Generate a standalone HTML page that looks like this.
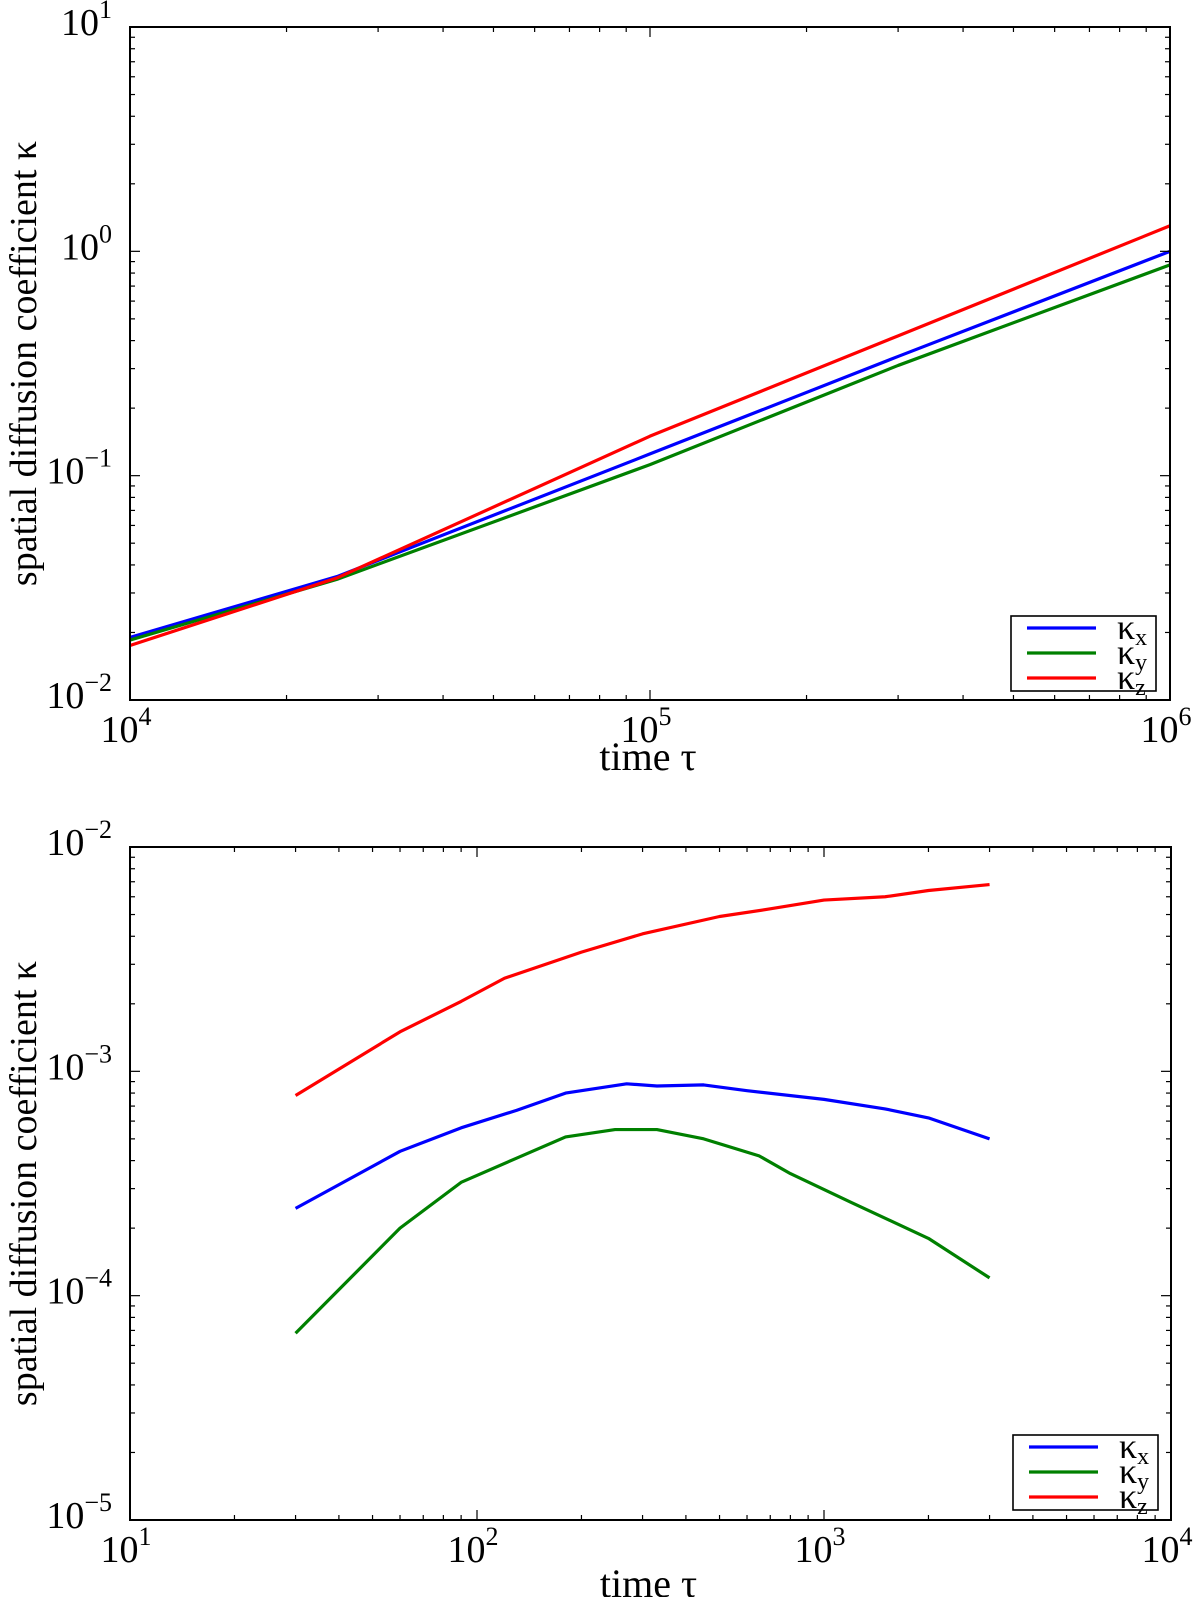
<!DOCTYPE html>
<html><head><meta charset="utf-8"><style>
html,body{margin:0;padding:0;background:#fff;overflow:hidden;}
svg{display:block;font-family:"Liberation Serif","DejaVu Serif",serif;}
</style></head><body>
<svg id="fig" width="1200" height="1597" viewBox="0 0 1200 1597" xmlns="http://www.w3.org/2000/svg"></svg>
<script>
// ---- Top chart data ----
const topX = [1e4, 2.5e4, 1e5, 3e5, 1e6];
const topKx = [0.019, 0.0355, 0.125, 0.34, 1.0];
const topKy = [0.0185, 0.0345, 0.112, 0.31, 0.87];
const topKz = [0.0175, 0.035, 0.15, 0.42, 1.3];
const topXTicks = [4, 5, 6];
const topYTicks = [-2, -1, 0, 1];
// ---- Bottom chart data ----
const botKzX = [30, 60, 90, 120, 200, 300, 500, 700, 1000, 1500, 2000, 3000];
const botKz = [7.8e-4, 1.5e-3, 2.05e-3, 2.6e-3, 3.4e-3, 4.1e-3, 4.9e-3, 5.3e-3, 5.8e-3, 6.0e-3, 6.4e-3, 6.8e-3];
const botKxX = [30, 60, 90, 130, 180, 270, 330, 450, 600, 1000, 1500, 2000, 3000];
const botKx = [2.45e-4, 4.4e-4, 5.6e-4, 6.7e-4, 8.0e-4, 8.8e-4, 8.6e-4, 8.7e-4, 8.2e-4, 7.5e-4, 6.8e-4, 6.2e-4, 5.0e-4];
const botKyX = [30, 60, 90, 130, 180, 250, 330, 450, 650, 800, 1200, 2000, 3000];
const botKy = [6.8e-5, 2.0e-4, 3.2e-4, 4.1e-4, 5.1e-4, 5.5e-4, 5.5e-4, 5.0e-4, 4.2e-4, 3.5e-4, 2.6e-4, 1.8e-4, 1.2e-4];
const botXTicks = [1, 2, 3, 4];
const botYTicks = [-5, -4, -3, -2];

const NS = "http://www.w3.org/2000/svg";
const fig = document.getElementById('fig');
function mk(tag, attrs, parent) {
  const e = document.createElementNS(NS, tag);
  for (const k in attrs) e.setAttribute(k, attrs[k]);
  (parent || fig).appendChild(e);
  return e;
}

function drawChart(cfg) {
  const g = mk('g', {});
  
  
  const L = cfg.L, R = cfg.R, T = cfg.T, B = cfg.B;
  const xd = cfg.xd, yd = cfg.yd;
  const sx = v => L + (Math.log10(v) - xd[0]) / (xd[1] - xd[0]) * (R - L);
  const sy = v => B - (Math.log10(v) - yd[0]) / (yd[1] - yd[0]) * (B - T);
  cfg.series.forEach(s => {
    const p = mk('polyline', {points: s.x.map((xv, i) => sx(xv) + ',' + sy(s.y[i])).join(' '), fill: 'none', stroke: s.color, 'stroke-width': 3.2, 'stroke-linejoin': 'round'}, g);
    
    
  });
  const tk = mk('g', {stroke: '#000', 'stroke-width': 1.2}, g);
  
  
  for (let d = xd[0]; d <= xd[1]; d++) {
    for (let m = 1; m <= 9; m++) {
      if (d === xd[1] && m > 1) break;
      const x = sx(m * Math.pow(10, d));
      const len = m === 1 ? 10 : 5;
      mk('line', {x1: x, x2: x, y1: B, y2: B - len}, tk);
      mk('line', {x1: x, x2: x, y1: T, y2: T + len}, tk);
    }
  }
  for (let d = yd[0]; d <= yd[1]; d++) {
    for (let m = 1; m <= 9; m++) {
      if (d === yd[1] && m > 1) break;
      const y = sy(m * Math.pow(10, d));
      const len = m === 1 ? 10 : 5;
      mk('line', {x1: L, x2: L + len, y1: y, y2: y}, tk);
      mk('line', {x1: R, x2: R - len, y1: y, y2: y}, tk);
    }
  }
  const box = mk('rect', {x: L, y: T, width: R - L, height: B - T, fill: 'none', stroke: '#000', 'stroke-width': 2}, g);
  
  
  cfg.xTicks.forEach(e => {
    const t = mk('text', {x: sx(Math.pow(10, e)) - 4, y: B + 42, 'font-size': 38, 'text-anchor': 'middle'}, g);
    
    
    t.innerHTML = '10<tspan dy="-17" font-size="26">' + e + '</tspan>';
  });
  cfg.yTicks.forEach(e => {
    const t = mk('text', {x: L - 18, y: sy(Math.pow(10, e)) + 8, 'font-size': 38, 'text-anchor': 'end'}, g);
    
    
    t.innerHTML = '10<tspan dy="-17" font-size="26">' + (e < 0 ? '\u2212' + (-e) : e) + '</tspan>';
  });
  const xl = mk('text', {x: (L + R) / 2 - 2, y: cfg.xTitleY, 'font-size': 40, 'text-anchor': 'middle'}, g);
  
  
  xl.textContent = 'time \u03c4';
  const cy = (T + B) / 2;
  const yl = mk('text', {x: 0, y: 0, 'font-size': 38, 'text-anchor': 'middle', transform: 'translate(36,' + cy + ') rotate(-90)'}, g);
  
  
  yl.textContent = 'spatial diffusion coefficient \u03ba';
  const lg = mk('g', {}, g);
  
  
  const lx = cfg.legX, ly = cfg.legY;
  mk('rect', {x: lx, y: ly, width: 145, height: 75, fill: '#fff', stroke: '#000', 'stroke-width': 1.6}, lg);
  cfg.series.forEach((s, i) => {
    const yy = ly + 12 + i * 25;
    const ent = mk('g', {}, lg);
    
    
    mk('line', {x1: lx + 16, x2: lx + 85, y1: yy, y2: yy, stroke: s.color, 'stroke-width': 3.2}, ent);
    const t = mk('text', {x: lx + 106, y: yy + 11, 'font-size': 36}, ent);
    t.innerHTML = '\u03ba<tspan dy="6" font-size="24">' + s.sub + '</tspan>';
  });
}

drawChart({name: 'top-chart', L: 130, R: 1170, T: 27, B: 700, xd: [4, 6], yd: [-2, 1],
  xTicks: topXTicks, yTicks: topYTicks, legX: 1011, legY: 616, xTitleY: 770,
  series: [
    {name: 'line-kappa-x', x: topX, y: topKx, color: '#0000ff', sub: 'x'},
    {name: 'line-kappa-y', x: topX, y: topKy, color: '#008000', sub: 'y'},
    {name: 'line-kappa-z', x: topX, y: topKz, color: '#ff0000', sub: 'z'}]});

drawChart({name: 'bottom-chart', L: 130, R: 1171, T: 847, B: 1520, xd: [1, 4], yd: [-5, -2],
  xTicks: botXTicks, yTicks: botYTicks, legX: 1013, legY: 1435, xTitleY: 1597,
  series: [
    {name: 'line-kappa-x', x: botKxX, y: botKx, color: '#0000ff', sub: 'x'},
    {name: 'line-kappa-y', x: botKyX, y: botKy, color: '#008000', sub: 'y'},
    {name: 'line-kappa-z', x: botKzX, y: botKz, color: '#ff0000', sub: 'z'}]});
</script>
</body></html>
